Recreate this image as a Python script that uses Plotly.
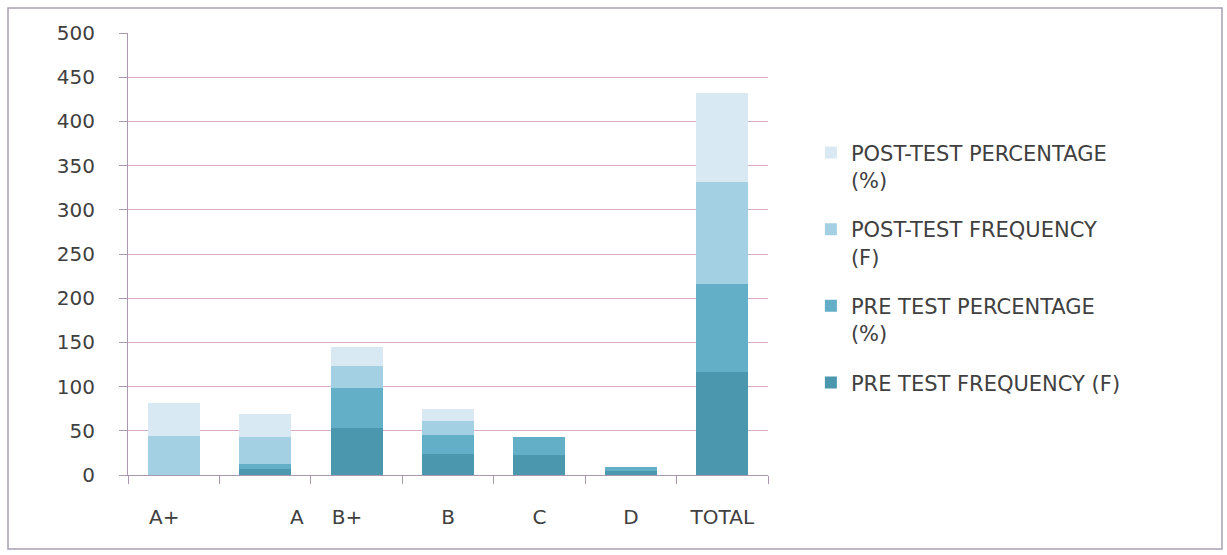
import plotly.graph_objects as go

# Grade bands and the padded tick text shown under each column
grades = ["A+", "A", "B+", "B", "C", "D", "TOTAL"]
grade_labels = ["A+\u00a0\u00a0\u00a0", "\u00a0" * 10 + "A", "B+\u00a0\u00a0\u00a0", "B", "C", "D", "TOTAL"]

# Stacked series (students, n = 116)
pre_freq = [0, 7, 53, 24, 23, 5, 116]
pre_pct = [0, 6.0, 45.7, 20.7, 19.8, 4.3, 100]
post_freq = [44, 30, 25, 16, 0, 0, 116]
post_pct = [37.9, 25.9, 21.6, 13.8, 0, 0, 100]

# (legend name, values, colour, legend rank) - stacked bottom to top,
# listed top to bottom in the legend
series = [
    ("PRE TEST FREQUENCY (F)", pre_freq, "#4b97ad", 4),
    ("PRE TEST PERCENTAGE<br>(%)", pre_pct, "#62afc7", 3),
    ("POST-TEST FREQUENCY<br>(F)", post_freq, "#a3d1e3", 2),
    ("POST-TEST PERCENTAGE<br>(%)", post_pct, "#d9e9f3", 1),
]

FONT = "DejaVu Sans"
TXT = "#404040"
AXIS = "#a898b0"

fig = go.Figure()
for name, vals, col, rank in series:
    fig.add_trace(go.Bar(
        x=grades, y=vals, name=name, marker=dict(color=col, line=dict(width=0)),
        legendgroup=name, legendrank=rank,
    ))

fig.update_layout(
    barmode="stack",
    bargap=0.43,
    width=1227, height=555,
    margin=dict(l=128, r=459, t=33, b=80),
    paper_bgcolor="white",
    plot_bgcolor="white",
    font=dict(family=FONT, size=20, color=TXT),
    showlegend=True,
    legend=dict(
        x=1.067, y=0.775, xanchor="left", yanchor="top",
        traceorder="grouped", tracegroupgap=19,
        valign="top",
        font=dict(family=FONT, size=21, color=TXT),
        bgcolor="rgba(0,0,0,0)",
    ),
    xaxis=dict(
        type="category",
        tickmode="array", tickvals=grades, ticktext=grade_labels,
        tickson="boundaries", ticks="outside", ticklen=8, tickcolor=AXIS,
        ticklabelstandoff=24,
        showline=True, linecolor=AXIS, linewidth=1,
        showgrid=False, tickfont=dict(size=20, color=TXT),
    ),
    yaxis=dict(
        range=[0, 500], dtick=50,
        ticks="outside", ticklen=8, tickcolor=AXIS,
        ticklabelstandoff=20,
        showline=True, linecolor=AXIS, linewidth=1,
        showgrid=True, gridcolor="#d8aacb", gridwidth=1,
        zeroline=False, tickfont=dict(size=20, color=TXT),
    ),
    shapes=[dict(
        type="rect", xref="paper", yref="paper",
        x0=(8 - 128) / 640, x1=(1222 - 128) / 640,
        y0=(475 - 549) / 442, y1=(475 - 8) / 442,
        line=dict(color="#a8a0b0", width=1.5), fillcolor="rgba(0,0,0,0)",
    )],
)

fig.write_html("out.html")
